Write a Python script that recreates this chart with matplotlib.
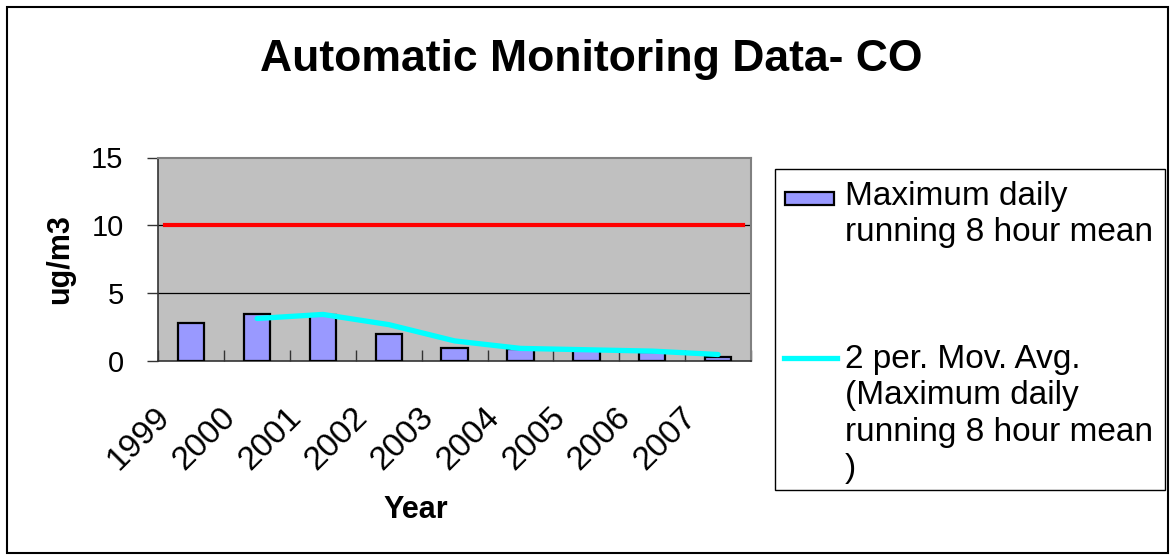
import matplotlib
matplotlib.use("Agg")
import matplotlib.pyplot as plt
import matplotlib.transforms as mtransforms
from matplotlib.patches import Rectangle
from matplotlib.lines import Line2D
import numpy as np

plt.rcParams['font.family'] = ['Liberation Sans', 'DejaVu Sans']

years = ["1999", "2000", "2001", "2002", "2003", "2004", "2005", "2006", "2007"]
max_daily = [2.8, 3.5, 3.4, 2.0, 1.0, 0.9, 0.8, 0.7, 0.3]
mov_avg = [np.nan, 3.15, 3.45, 2.7, 1.5, 0.95, 0.85, 0.75, 0.5]
limit_value = 10
yticks = [0, 5, 10, 15]

W, H = 1171, 560
fig = plt.figure(figsize=(W / 100, H / 100), dpi=100)

def fx(px):
    return px / W

def fy(py):
    return 1 - py / H

# figure border
fig.patches.append(Rectangle((fx(7), fy(553)), fx(1168) - fx(7), fy(7) - fy(553),
                             transform=fig.transFigure, fill=False,
                             edgecolor='black', linewidth=1.5))

left, right, top, bottom = 158.3, 751, 157.5, 361.3
ax = fig.add_axes([fx(left), fy(bottom), fx(right) - fx(left), fy(top) - fy(bottom)])
ax.set_facecolor('#C0C0C0')

x = np.arange(len(years))
ax.bar(x, max_daily, width=0.4, color='#9999FF', edgecolor='black', linewidth=1.6, zorder=3)
ax.plot(x, mov_avg, color='#00FFFF', linewidth=3.8, zorder=4, solid_capstyle='round')
ax.plot([-0.4, 8.38], [limit_value, limit_value], color='#FF0000', linewidth=3.0, zorder=2)

ax.set_xlim(-0.5, len(years) - 0.5)
ax.set_ylim(0, 15)
ax.set_yticks(yticks)
ax.set_yticklabels([str(v) for v in yticks], fontsize=21)
for v in yticks[1:-1]:
    ax.axhline(v, color='black', linewidth=0.9, zorder=1)

ax.set_xticks(x)
ax.set_xticklabels(years, fontsize=24, rotation=45, ha='right', va='top')
ax.set_xticks(np.arange(-0.5, len(years) + 0.5, 1), minor=True)
ax.tick_params(axis='x', which='major', length=0, pad=29)
ax.tick_params(axis='x', which='minor', length=8, direction='in', width=1, color='#333333')
ax.tick_params(axis='y', length=8, direction='out', width=1, color='#333333', pad=17)

offset = mtransforms.ScaledTranslation(-15 / 100, 0, fig.dpi_scale_trans)
for lbl in ax.get_xticklabels():
    lbl.set_transform(lbl.get_transform() + offset)

for s in ['top', 'right']:
    ax.spines[s].set_color('#808080')
    ax.spines[s].set_linewidth(1.5)
for s in ['left', 'bottom']:
    ax.spines[s].set_color('#333333')
    ax.spines[s].set_linewidth(1.2)

fig.text(fx(591), fy(60), "Automatic Monitoring Data- CO", fontsize=32, fontweight='bold',
         ha='center', va='center')
fig.text(fx(416), fy(510), "Year", fontsize=22, fontweight='bold', ha='center', va='center')
fig.text(fx(60), fy(259), "ug/m3", fontsize=22, fontweight='bold', ha='center', va='center',
         rotation=90)

# legend (drawn manually)
fig.patches.append(Rectangle((fx(775), fy(490)), fx(1165) - fx(775), fy(169) - fy(490),
                             transform=fig.transFigure, fill=False, edgecolor='black',
                             linewidth=1.0))
fig.patches.append(Rectangle((fx(785), fy(205)), fx(834) - fx(785), fy(192) - fy(205),
                             transform=fig.transFigure, facecolor='#9999FF',
                             edgecolor='black', linewidth=1.6))
fig.lines.append(Line2D([fx(784), fx(837)], [fy(358), fy(358)], transform=fig.transFigure,
                        color='#00FFFF', linewidth=3.8))
fig.text(fx(845), fy(181), "Maximum daily\nrunning 8 hour mean", fontsize=24,
         ha='left', va='top', linespacing=1.22)
fig.text(fx(845), fy(344), "2 per. Mov. Avg.\n(Maximum daily\nrunning 8 hour mean\n)",
         fontsize=24, ha='left', va='top', linespacing=1.22)

fig.savefig("out.png", dpi=100)
